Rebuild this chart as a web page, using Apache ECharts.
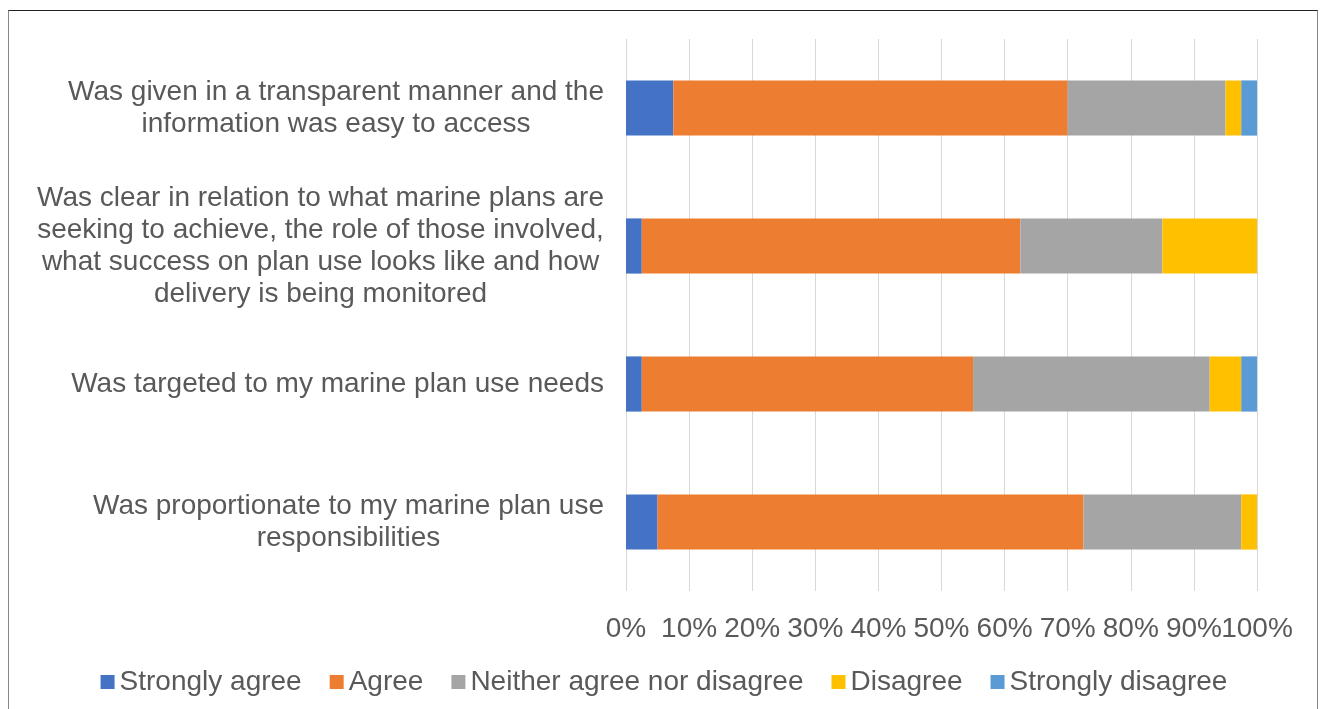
<!DOCTYPE html>
<html>
<head>
<meta charset="utf-8">
<script src="https://cdn.jsdelivr.net/npm/echarts@6/dist/echarts.min.js"></script>
<style>
    html, body { margin: 0; padding: 0; background: #fff; }
    #frame {
        position: absolute; left: 8px; top: 10px; width: 1310px; height: 710px;
        border-top: 1px solid #222; border-left: 1px solid #888; border-right: 1px solid #888;
        box-sizing: border-box;
    }
    #chart { position: absolute; left: 0; top: 0; width: 1328px; height: 709px; }
</style>
</head>
<body>
<div id="frame"></div>
<div id="chart"></div>
<script>
var categories = [
    'Was given in a transparent manner and the\ninformation was easy to access',
    'Was clear in relation to what marine plans are\nseeking to achieve, the role of those involved,\nwhat success on plan use looks like and how\ndelivery is being monitored',
    'Was targeted to my marine plan use needs',
    'Was proportionate to my marine plan use\nresponsibilities'
]
var stronglyAgree = [7.5, 2.5, 2.5, 5]
var agree = [62.5, 60, 52.5, 67.5]
var neither = [25, 22.5, 37.5, 25]
var disagree = [2.5, 15, 5, 2.5]
var stronglyDisagree = [2.5, 0, 2.5, 0]

var names = ['Strongly agree', 'Agree', 'Neither agree nor disagree', 'Disagree', 'Strongly disagree']
var colors = ['#4472C4', '#ED7D31', '#A5A5A5', '#FFC000', '#5B9BD5']
var values = [stronglyAgree, agree, neither, disagree, stronglyDisagree]

var chart = echarts.init(document.getElementById('chart'))
var font = 'Liberation Sans, Arial, sans-serif'

// the 90% and 100% labels touch, so the 100% label is drawn by a twin axis
// to keep ECharts from dropping one of them
function pctAxis(showMax) {
    return {
        type: 'value',
        position: 'bottom',
        min: 0,
        max: 100,
        interval: 10,
        axisLine: { show: false },
        axisTick: { show: false },
        splitLine: { show: !showMax, lineStyle: { color: '#d9d9d9', width: 1 } },
        axisLabel: {
            margin: 24,
            fontSize: 28,
            color: '#595959',
            fontFamily: font,
            hideOverlap: false,
            formatter: function (v) {
                if (showMax) return v === 100 ? '100%' : ''
                return v === 100 ? '' : v + '%'
            }
        }
    }
}

let option = {
    animation: false,
    textStyle: { fontFamily: font },
    legend: {
        bottom: 8,
        left: 'center',
        itemWidth: 14,
        itemHeight: 14,
        itemGap: 28,
        icon: 'rect',
        textStyle: { fontSize: 28, color: '#595959', fontFamily: font },
        data: names
    },
    grid: {
        left: 626,
        top: 39,
        width: 631,
        height: 552,
        containLabel: false
    },
    xAxis: [pctAxis(false), pctAxis(true)],
    yAxis: {
        type: 'category',
        inverse: true,
        data: categories,
        axisLine: { show: false },
        axisTick: { show: false },
        axisLabel: {
            margin: 22,
            fontSize: 28,
            lineHeight: 32,
            color: '#595959',
            fontFamily: font,
            align: 'right',
            formatter: function (v) {
                return v.split('\n').map(function (s) { return '{c|' + s + '}' }).join('\n')
            },
            rich: {
                c: { align: 'center', fontSize: 28, lineHeight: 32, color: '#595959', fontFamily: font }
            }
        }
    },
    series: names.map(function (n, i) {
        return {
            name: n,
            type: 'bar',
            stack: 'total',
            barWidth: '40%',
            itemStyle: { color: colors[i] },
            data: values[i]
        }
    })
}
chart.setOption(option)
</script>
</body>
</html>
